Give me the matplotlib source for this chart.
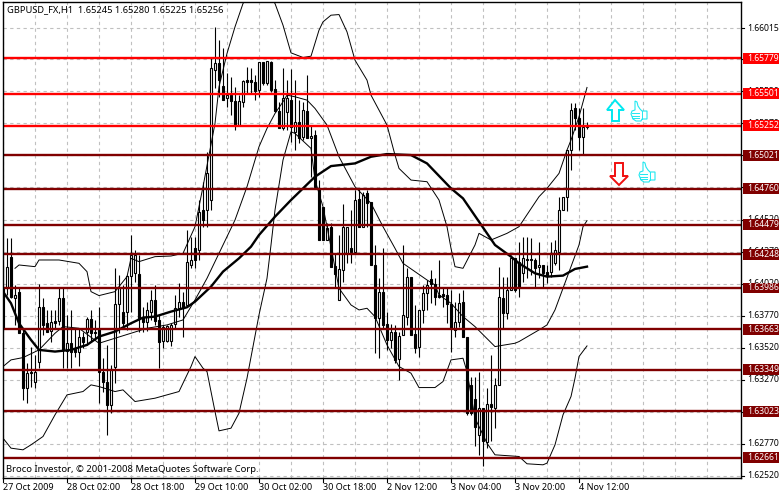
import numpy as np
import matplotlib
matplotlib.use("Agg")
import matplotlib.pyplot as plt
from matplotlib.lines import Line2D
from matplotlib.patches import Polygon, Rectangle
from matplotlib.transforms import IdentityTransform

plt.rcParams['font.family'] = ['Noto Sans', 'DejaVu Sans']

# candle values, in points (1.65245 -> 165245), one per hourly bar
opens = [163983,163983,164230,163910,163957,163632,163203,163320,163250,163406,163840,163710,163650,163728,163728,163910,163494,163554,163510,163484,
         163606,163640,163744,163640,163666,163333,163250,163073,163372,163858,163801,163801,164082,164100,164092,163762,163718,163801,163892,163736,
         163572,163572,163572,163702,163827,163879,163853,164165,164295,164282,164594,164594,164672,165691,165738,165561,165465,165491,165447,165257,
         165439,165608,165608,165595,165530,165751,165582,165751,165535,165369,165231,165361,165452,165205,165283,165166,165369,165156,165179,164763,
         164620,164360,164464,164160,163892,164126,164256,164295,164269,164677,164464,164724,164659,164165,163754,163957,163702,163580,163645,163432,
         163619,163762,164074,163624,163528,163814,163944,164056,164014,163931,163936,163931,163858,163658,163718,163874,163606,163229,163120,162834,
         163052,162782,163078,163052,163229,163905,163793,163970,164217,164191,164100,164212,164212,164204,164149,164165,164113,164113,164178,164269,
         164594,164698,165062,165387,165309,165166,165245]
highs = [164165,164376,164376,164009,163983,163671,163398,163528,163463,164014,163905,163814,163814,163814,163983,163983,163775,163814,163671,163671,
         163645,163762,163814,163736,163840,163437,163541,163385,164139,164087,164009,164087,164399,164282,164243,163840,163879,163970,164009,163775,
         163697,163697,163710,163931,164022,163957,164438,164386,164386,164672,164815,165049,165790,166024,165920,165855,165660,165634,165551,165491,
         165608,165712,165699,165647,165751,165751,165759,165759,165608,165439,165699,165608,165694,165608,165452,165439,165647,165257,165218,164828,
         164620,164490,164490,164256,164399,164641,164464,164594,164750,164763,164737,164750,164659,164321,164061,164295,163801,163702,163697,163645,
         164321,164139,164074,163853,163814,164009,164048,164126,164061,164204,163996,163996,163970,163879,163944,163970,163606,163294,163294,163333,
         163052,163203,163463,163281,164152,164074,164074,164243,164217,164347,164386,164386,164373,164217,164347,164165,164165,164347,164360,164698,
         164698,165062,165426,165426,165387,165387,165280]
lows = [163645,163931,163905,163697,163632,163112,163086,163216,163203,163359,163619,163645,163567,163671,163697,163359,163359,163359,163450,163380,
        163515,163541,163567,163593,163086,163177,162839,163008,163242,163632,163684,163658,163801,164035,163645,163640,163650,163736,163697,163364,
        163515,163567,163536,163671,163762,163606,163840,164139,164139,164204,164464,164464,164594,165543,165478,165452,165400,165335,165218,165257,
        165395,165504,165504,165452,165478,165569,165569,165517,165361,165231,165218,165218,165127,165062,165114,165140,165153,164854,164763,164360,
        164360,164360,164152,163983,163892,164035,164178,164178,164269,164464,164464,164464,164165,163476,163437,163671,163502,163515,163398,163268,
        163619,163697,163619,163476,163450,163710,163814,163866,163853,163905,163840,163710,163489,163606,163684,163606,162995,162995,162748,162678,
        162592,162735,162787,162891,163229,163671,163744,163970,163957,163918,164035,164061,164087,163996,164061,163996,164022,164074,164165,164126,
        164594,164589,164906,165218,165062,165023,165225]
closes = [163671,164152,163918,163931,163632,163208,163320,163333,163333,163840,163697,163645,163718,163710,163910,163502,163554,163489,163484,163606,
          163567,163744,163632,163632,163328,163250,163073,163354,163858,163996,163710,164082,164243,164243,163744,163718,163814,163892,163728,163567,
          163684,163689,163697,163827,163879,163827,164191,164204,164204,164581,164516,164880,165699,165738,165608,165452,165491,165447,165257,165447,
          165600,165595,165595,165525,165751,165582,165759,165530,165369,165231,165465,165465,165244,165283,165153,165374,165153,165171,164776,164360,
          164360,164451,164152,164092,164134,164464,164464,164269,164672,164464,164711,164646,164165,163754,163957,163697,163580,163645,163424,163614,
          163775,164074,163619,163515,163814,163944,164009,164014,163918,163918,163926,163858,163671,163723,163866,163606,163008,163008,162904,163047,
          162787,163078,163060,163229,163918,163793,163970,164217,163970,163996,164217,164201,164201,164144,164165,164100,164087,164248,164282,164594,
          164698,165062,165374,165309,165166,165244,165256]

# bollinger bands and the long average, read at selected bars
upper_bars = [3,4,8,9,14,19,21,22,24,28,31,32,34,38,42,45,48,50,53,54,56,58,60,64,68,70,72,75,77,79,80,82,84,86,88,91,92,96,98,99,102,106,109,111,112,113,115,118,119,122,126,129,134,136,139,141,142,144,146]
upper_vals = [164139,164165,164152,164204,164204,164178,164113,163957,163926,163957,164074,164217,164191,164230,164235,164256,164464,164776,165270,165556,165816,166024,166206,166388,166206,166037,165821,165785,165795,165998,166063,166115,166120,165985,165764,165608,165491,165257,165023,164919,164828,164815,164672,164464,164295,164152,164139,164321,164412,164360,164412,164464,164698,164763,164880,165062,165140,165322,165551]
mid_bars = [0,2,5,9,13,15,19,24,28,32,36,41,45,48,51,55,58,61,64,66,68,70,71,73,76,78,81,84,88,92,95,98,100,106,108,109,112,115,118,123,128,129,134,136,138,140,144,145,146]
mid_vals = [163372,163424,163442,163502,163632,163684,163671,163554,163593,163632,163671,163697,163736,163892,164061,164321,164516,164776,165088,165231,165348,165439,165491,165478,165452,165387,165257,165010,164776,164646,164464,164295,164178,164048,164009,163931,163866,163762,163684,163528,163554,163567,163658,163697,163814,163983,164321,164464,164511]
lower_bars = [0,2,5,7,10,13,16,20,22,24,28,30,33,38,44,47,48,50,51,53,54,57,59,61,64,66,67,68,70,72,73,77,78,80,81,84,87,89,91,93,96,99,102,104,108,110,112,115,116,118,121,123,129,131,135,136,138,140,142,143,144,146]
lower_vals = [162813,162735,162722,162761,162826,162995,163151,163177,163229,163216,163177,163190,163099,163125,163177,163372,163450,163359,163333,163021,162870,162891,163008,163281,163775,164061,164321,164594,164984,165205,165192,165075,164828,164620,164464,163983,163853,163814,163827,163762,163541,163372,163320,163208,163208,163255,163424,163437,163333,162969,162774,162683,162670,162613,162605,162618,162761,162995,163138,163281,163450,163533]
ma_bars = [0,2,4,7,9,13,17,21,24,28,32,35,38,42,46,48,52,55,59,62,64,68,72,75,78,82,88,92,96,102,106,112,115,119,123,127,129,133,136,140,143,146]
ma_vals = [163957,163866,163710,163580,163502,163489,163502,163541,163606,163645,163710,163754,163762,163801,163835,163879,163996,164113,164217,164308,164399,164542,164672,164763,164854,164937,164958,165010,165031,165023,164958,164763,164685,164503,164321,164230,164178,164100,164074,164082,164134,164152]

levels_red = [1.65779, 1.65501, 1.65252]
levels_dark = [1.65021, 1.64760, 1.64479, 1.64248, 1.63986, 1.63663, 1.63349, 1.63023, 1.62661]
price_ticks = [1.66015, 1.65770, 1.65520, 1.65270, 1.65020, 1.64770, 1.64520, 1.64270, 1.64020,
               1.63770, 1.63520, 1.63270, 1.63020, 1.62770, 1.62520]
time_labels = ["27 Oct 2009", "28 Oct 02:00", "28 Oct 18:00", "29 Oct 10:00", "30 Oct 02:00",
               "30 Oct 18:00", "2 Nov 12:00", "3 Nov 04:00", "3 Nov 20:00", "4 Nov 12:00"]

W, H = 779, 495
fig = plt.figure(figsize=(W / 100, H / 100), dpi=100)
ax = fig.add_axes([3 / W, (H - 478) / H, 738 / W, 476 / H])
ax.set_xlim(0, 184.5)
ax.set_ylim(1.62502, 1.66218)
ax.set_yticks([])
ax.set_xticks([])
for s in ax.spines.values():
    s.set_linewidth(1.0)
    s.set_zorder(10)

# grid
for b in np.arange(0, 184, 8):
    ax.axvline(b, color="#c0c0c0", lw=0.8, ls=(0, (3, 3)), zorder=1)
for p in price_ticks:
    ax.axhline(p, color="#c0c0c0", lw=0.8, ls=(0, (3, 3)), zorder=1)

# candles
o = np.array(opens) / 1e5
h = np.array(highs) / 1e5
l = np.array(lows) / 1e5
c = np.array(closes) / 1e5
x = np.arange(len(o))
up = c >= o
ax.vlines(x, l, h, color="black", lw=0.8, zorder=2)
ax.bar(x[up], (c - o)[up], bottom=o[up], width=0.5, color="white", edgecolor="black", lw=0.8, zorder=3)
ax.bar(x[~up], (o - c)[~up], bottom=c[~up], width=0.5, color="black", edgecolor="black", lw=0.8, zorder=3)

# indicators
ax.plot(upper_bars, np.array(upper_vals) / 1e5, color="black", lw=0.7, zorder=4)
ax.plot(mid_bars, np.array(mid_vals) / 1e5, color="black", lw=0.7, zorder=4)
ax.plot(lower_bars, np.array(lower_vals) / 1e5, color="black", lw=0.7, zorder=4)
ax.plot(ma_bars, np.array(ma_vals) / 1e5, color="black", lw=1.7, zorder=4)

# right price scale
ytr = ax.get_yaxis_transform()
for p in price_ticks:
    ax.plot([1.0, 1.004], [p, p], color="black", lw=0.8, transform=ytr, clip_on=False)
    ax.text(1.0078, p, "%.5f" % p, transform=ytr, ha="left", va="center", fontsize=6.2, color="black", clip_on=False, zorder=5)

for levels, col in ((levels_red, "#ff0000"), (levels_dark, "#800000")):
    for p in levels:
        ax.axhline(p, color=col, lw=1.7, zorder=6)
        ax.add_patch(Rectangle((1.003, p - 0.00042), 0.06, 0.00084, transform=ytr, color=col, clip_on=False, lw=0, zorder=7))
        ax.text(1.0078, p, "%.5f" % p, transform=ytr, ha="left", va="center", fontsize=6.2, color="white", clip_on=False, zorder=8)

# time scale
xtr = ax.get_xaxis_transform()
for i, lab in enumerate(time_labels):
    b = i * 16
    ax.plot([b, b], [0, -0.009], color="black", lw=0.8, transform=xtr, clip_on=False)
    ax.text(b + 0.1, -0.0205, lab, transform=xtr, ha="left", va="center", fontsize=6.5, color="black", clip_on=False)

fig.text(7 / W, 1 - 10 / H, "GBPUSD_FX,H1  1.65245 1.65280 1.65225 1.65256", fontsize=6.7, color="black", va="center")
fig.text(6 / W, 1 - 469 / H, "Broco Investor, © 2001-2008 MetaQuotes Software Corp.", fontsize=6.8, color="black", va="center")


def px_poly(points, **kw):
    pts = [(a, H - b) for a, b in points]
    fig.add_artist(Polygon(pts, closed=True, transform=IdentityTransform(), **kw))


def px_line(x0, y0, x1, y1, col, lw):
    fig.add_artist(Line2D([x0, x1], [H - y0, H - y1], color=col, lw=lw, transform=IdentityTransform()))


# signal arrows and thumbs, placed on the picture
px_poly([(615, 100), (624, 110), (619, 110), (619, 121), (612, 121), (612, 110), (607, 110)],
        facecolor="white", edgecolor="#00e8f0", lw=1.4)
px_poly([(615, 163), (623, 163), (623, 176), (628, 176), (619, 185), (610, 176), (615, 176)],
        facecolor="white", edgecolor="#f01010", lw=1.4)
thumb = [(4, 0), (6, 1), (7, 5), (9, 8), (11, 10), (16, 10), (16, 18), (11, 18), (10, 20), (5, 20), (2, 18), (0, 13), (1, 10), (4, 9), (4, 5)]
for tx, ty in ((631, 101), (639, 162)):
    px_poly([(tx + a, ty + b) for a, b in thumb], facecolor="white", edgecolor="#20e8f0", lw=0.8)
    px_line(tx + 11, ty + 10, tx + 11, ty + 18, "#20e8f0", 0.7)
    for fy in (12, 14.5, 17):
        px_line(tx + 1, ty + fy, tx + 8, ty + fy, "#20e8f0", 0.7)

fig.savefig("out.png", dpi=100)
